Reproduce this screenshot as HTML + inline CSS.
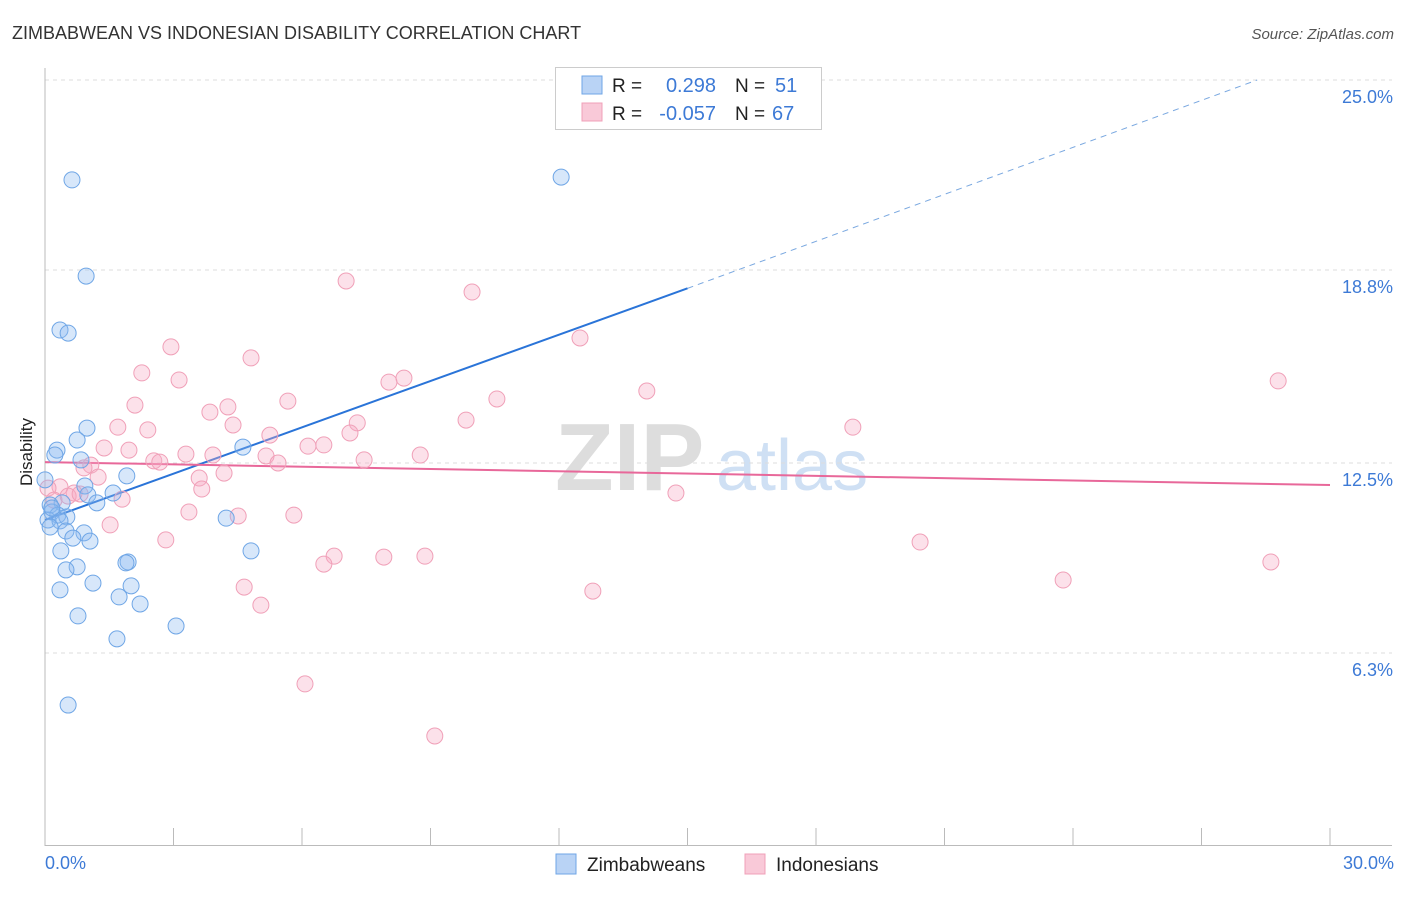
<!DOCTYPE html>
<html><head><meta charset="utf-8"><style>
body{margin:0;background:#fff;font-family:"Liberation Sans",sans-serif}
svg text{font-family:"Liberation Sans",sans-serif}
</style></head><body>
<svg id="chart" width="1406" height="892" xmlns="http://www.w3.org/2000/svg">
<text x="12" y="39" font-size="18" fill="#333">ZIMBABWEAN VS INDONESIAN DISABILITY CORRELATION CHART</text>
<text x="1394" y="39" font-size="15" fill="#555" font-style="italic" text-anchor="end">Source: ZipAtlas.com</text>
<g><text x="555" y="490" font-size="96" fill="#ddd" font-family="Liberation Serif" font-weight="bold">ZIP</text><text x="716" y="490" font-size="72" fill="#cfe0f4">atlas</text></g>
<g id="grid"></g>
<g id="axes"></g>
<g id="trends"></g>
<g id="pts"></g>
<text x="36" y="456" font-size="17" fill="#222" transform="rotate(-90 32 456)" text-anchor="middle">Disability</text>
<text x="45" y="869" font-size="18" fill="#3d7ad6">0.0%</text>
<text x="1394" y="869" font-size="18" fill="#3d7ad6" text-anchor="end">30.0%</text>
<g>
<rect x="555.5" y="67.5" width="266" height="62" fill="#fff" stroke="#ccc"/>
<rect x="582" y="76" width="20" height="18" fill="#b9d3f5" stroke="#6fa6e6"/>
<rect x="582" y="103" width="20" height="18" fill="#f9c9d8" stroke="#f0a0b8"/>
<text x="612" y="92" font-size="19" fill="#222">R =</text>
<text x="716" y="92" font-size="20" fill="#3d7ad6" text-anchor="end">0.298</text>
<text x="735" y="92" font-size="19" fill="#222">N =</text>
<text x="775" y="92" font-size="20" fill="#3d7ad6">51</text>
<text x="612" y="120" font-size="19" fill="#222">R =</text>
<text x="716" y="120" font-size="20" fill="#3d7ad6" text-anchor="end">-0.057</text>
<text x="735" y="120" font-size="19" fill="#222">N =</text>
<text x="772" y="120" font-size="20" fill="#3d7ad6">67</text>
</g>
<g>
<rect x="556" y="854" width="20" height="20" fill="#b9d3f5" stroke="#6fa6e6"/>
<text x="587" y="871" font-size="19" fill="#222">Zimbabweans</text>
<rect x="745" y="854" width="20" height="20" fill="#f9c9d8" stroke="#f0a0b8"/>
<text x="776" y="871" font-size="19" fill="#222">Indonesians</text>
</g>
</svg>
<script>
const yTicks=[25.0,18.8,12.5,6.3];
const yTickLabels=["25.0%","18.8%","12.5%","6.3%"];
const blueX=[0.63,12.05,0.96,0.35,0.54,0.98,0.75,0.28,4.62,0.23,0.84,1.91,0.93,1.00,1.59,1.21,0.40,0.12,0.16,0.30,0.51,0.07,0.35,4.23,0.12,0.49,0.91,0.65,1.05,0.37,4.81,1.94,1.89,0.75,0.49,1.12,2.01,0.35,1.73,2.22,0.77,3.06,1.68,0.54,0.16,0.0];
const blueY=[21.74,21.83,18.60,16.84,16.74,13.64,13.25,12.92,13.02,12.76,12.60,12.08,11.75,11.46,11.52,11.20,11.20,11.13,10.90,10.80,10.74,10.64,10.61,10.70,10.41,10.28,10.22,10.05,9.95,9.63,9.63,9.27,9.24,9.11,9.01,8.58,8.49,8.36,8.13,7.90,7.51,7.18,6.76,4.60,11.03,11.95];
const pinkX=[7.03,9.97,12.49,2.94,4.81,2.26,3.13,8.38,8.03,28.79,14.05,10.55,5.67,2.10,4.27,3.85,9.83,7.29,4.39,1.70,2.40,18.86,7.12,5.25,6.14,6.51,1.38,1.96,3.29,3.92,8.76,5.16,2.54,2.68,7.45,5.44,1.07,0.91,4.18,1.24,3.60,0.35,0.07,3.66,14.73,0.68,0.54,0.82,1.80,0.21,3.36,4.51,5.81,1.52,2.82,20.43,6.75,7.91,8.87,6.51,28.62,23.77,4.65,12.79,5.04,6.07,9.10];
const pinkY=[18.44,18.08,16.58,16.29,15.93,15.44,15.21,15.27,15.14,15.18,14.85,14.59,14.52,14.39,14.33,14.16,13.90,13.81,13.74,13.67,13.58,13.67,13.48,13.41,13.05,13.09,12.99,12.92,12.79,12.76,12.76,12.73,12.57,12.53,12.60,12.50,12.43,12.34,12.17,12.04,12.01,11.72,11.68,11.65,11.52,11.52,11.42,11.49,11.32,11.29,10.90,10.77,10.80,10.48,9.99,9.92,9.46,9.43,9.46,9.20,9.27,8.68,8.45,8.32,7.86,5.29,3.59];
const blueTrend=[[0,10.64],[15,18.2],[28.3,25.0]];
const pinkTrend=[[0,12.53],[30,11.78]];
const NS="http://www.w3.org/2000/svg";
const X=v=>45+v/30*1285, Y=v=>846-v/25*766;
function mk(t,a,p){const e=document.createElementNS(NS,t);for(const k in a)e.setAttribute(k,a[k]);p.appendChild(e);return e;}
const grid=document.getElementById('grid'),axes=document.getElementById('axes'),tr=document.getElementById('trends'),pts=document.getElementById('pts');
yTicks.forEach((t,i)=>{
 const l=mk('line',{x1:45,x2:1392,y1:Y(t),y2:Y(t),stroke:'#ddd','stroke-dasharray':'4,4'},grid);
 
 
 const tx=mk('text',{x:1393,y:Y(t)+23,'font-size':18,fill:'#3d7ad6','text-anchor':'end'},axes);
 tx.textContent=yTickLabels[i];
 
 
});
mk('line',{x1:45,x2:45,y1:68,y2:846,stroke:'#bbb'},axes);
mk('line',{x1:45,x2:1392,y1:845.5,y2:845.5,stroke:'#bbb'},axes);
for(let i=0;i<=10;i++){const t=mk('line',{x1:X(i*3),x2:X(i*3),y1:828,y2:846,stroke:'#bbb'},axes);
 
 }
const b1=mk('line',{x1:X(blueTrend[0][0]),y1:Y(blueTrend[0][1]),x2:X(blueTrend[1][0]),y2:Y(blueTrend[1][1]),stroke:'#2a74d8','stroke-width':2},tr);


const b2=mk('line',{x1:X(blueTrend[1][0]),y1:Y(blueTrend[1][1]),x2:X(blueTrend[2][0]),y2:Y(blueTrend[2][1]),stroke:'#7aa8e0','stroke-width':1,'stroke-dasharray':'6,5'},tr);


const p1=mk('line',{x1:X(pinkTrend[0][0]),y1:Y(pinkTrend[0][1]),x2:X(pinkTrend[1][0]),y2:Y(pinkTrend[1][1]),stroke:'#e8689a','stroke-width':2},tr);


pinkX.forEach((x,i)=>{const c=mk('circle',{cx:X(x),cy:Y(pinkY[i]),r:8,fill:'rgba(246,170,196,0.35)',stroke:'#f0a0b8','stroke-width':1},pts);
 
 });
blueX.forEach((x,i)=>{const c=mk('circle',{cx:X(x),cy:Y(blueY[i]),r:8,fill:'rgba(140,185,240,0.35)',stroke:'#6fa6e6','stroke-width':1},pts);
 
 });
</script>
</body></html>
